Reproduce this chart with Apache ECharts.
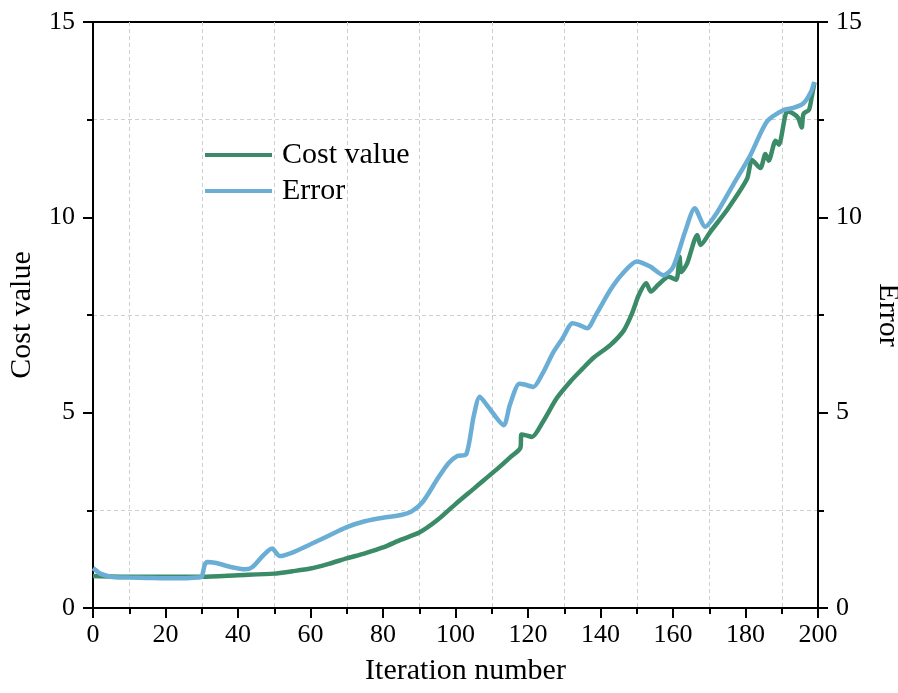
<!DOCTYPE html>
<html>
<head>
<meta charset="utf-8">
<script src="https://cdn.jsdelivr.net/npm/echarts@6/dist/echarts.min.js"></script>
<style>
html,body{margin:0;padding:0;background:#fff;}
#chart{width:898px;height:693px;}
</style>
</head>
<body>
<div id="chart"></div>
<script>
// ---- data ----
const costIter = [0, 10, 20, 30, 40, 50, 55, 60, 65, 70, 75, 80, 85, 90, 95, 100, 105, 107.8, 112, 115, 117.9, 118.2, 119.5, 121.1, 124, 128, 131.7, 135, 138, 142.7, 146.4, 148.7, 150.5, 152.6, 153.9, 156, 158.8, 160.9, 161.8, 162.3, 163.9, 166.7, 167.6, 170.3, 175, 180.4, 181.8, 184.1, 185.5, 186.4, 188.3, 189.2, 191.5, 192.9, 194.5, 195.5, 196, 197.5, 198.3, 199];
const costValue = [0.82, 0.80, 0.80, 0.80, 0.84, 0.88, 0.94, 1.01, 1.13, 1.27, 1.40, 1.55, 1.75, 1.93, 2.25, 2.66, 3.05, 3.27, 3.60, 3.85, 4.10, 4.44, 4.42, 4.38, 4.75, 5.38, 5.80, 6.12, 6.40, 6.73, 7.10, 7.54, 8.00, 8.31, 8.10, 8.28, 8.48, 8.40, 8.99, 8.60, 8.82, 9.55, 9.29, 9.63, 10.20, 10.98, 11.47, 11.26, 11.62, 11.45, 11.96, 11.86, 12.71, 12.67, 12.55, 12.30, 12.65, 12.75, 13.10, 13.45];

const errorIter = [0, 1, 2, 4, 6, 10, 15, 20, 25, 29, 30, 30.8, 31.5, 34, 38, 42, 44, 47, 49.4, 51.5, 55, 60, 65, 70, 75, 80, 85, 88, 91, 95, 98, 100.5, 103, 105, 106.7, 109, 113.3, 115, 117.6, 119, 121.5, 124, 127, 129.5, 132.3, 134, 136.3, 139, 142.7, 146, 150, 153.7, 157.4, 160, 163.4, 166, 168.9, 172, 176.7, 181.3, 185.9, 190.5, 193.2, 196, 198, 199];
const errorValue = [1.02, 0.95, 0.88, 0.82, 0.79, 0.78, 0.77, 0.76, 0.76, 0.78, 0.80, 1.10, 1.18, 1.15, 1.05, 0.99, 1.05, 1.35, 1.52, 1.33, 1.42, 1.63, 1.85, 2.07, 2.22, 2.31, 2.38, 2.48, 2.72, 3.30, 3.70, 3.89, 3.94, 4.90, 5.41, 5.15, 4.68, 5.20, 5.74, 5.72, 5.66, 6.00, 6.55, 6.90, 7.29, 7.25, 7.16, 7.55, 8.14, 8.55, 8.87, 8.74, 8.52, 8.72, 9.65, 10.23, 9.76, 10.10, 10.85, 11.58, 12.45, 12.75, 12.80, 12.92, 13.20, 13.47];

const xTicks = [0, 20, 40, 60, 80, 100, 120, 140, 160, 180, 200];
const yTicks = [0, 5, 10, 15];

const seriesNames = ['Cost value', 'Error'];

// ---- chart ----
const FONT = 'Liberation Serif';
const costData = costIter.map((x, i) => [x, costValue[i]]);
const errorData = errorIter.map((x, i) => [x, errorValue[i]]);

const chart = echarts.init(document.getElementById('chart'), null, {renderer: 'canvas'});

const gridLine = {show: true, lineStyle: {color: '#cfcfcf', type: [4, 3], width: 1}};

function yAxis(pos, name, rot, gap) {
  return {
    type: 'value', position: pos, min: yTicks[0], max: yTicks[yTicks.length - 1], interval: 5,
    name: name, nameLocation: 'middle', nameGap: gap, nameRotate: rot,
    nameTextStyle: {fontFamily: FONT, fontSize: 30, color: '#000'},
    axisLine: {show: true, onZero: false, lineStyle: {color: '#000', width: 2}},
    axisTick: {show: true, inside: false, length: 10, lineStyle: {color: '#000', width: 2}},
    minorTick: {show: true, splitNumber: 2, length: 6, lineStyle: {color: '#000', width: 2}},
    splitLine: {show: false},
    minorSplitLine: pos === 'left' ? gridLine : {show: false},
    axisLabel: {fontFamily: FONT, fontSize: 26, color: '#000', margin: 18}
  };
}

chart.setOption({
  animation: false,
  backgroundColor: '#fff',
  grid: {left: 93, right: 80, top: 22, bottom: 85, show: true, borderColor: '#000', borderWidth: 2,
         containLabel: false, outerBoundsMode: 'none'},
  legend: {
    data: seriesNames, orient: 'vertical', left: 205, top: 140,
    icon: 'rect', itemWidth: 67, itemHeight: 4, itemGap: 6,
    textStyle: {fontFamily: FONT, fontSize: 30, color: '#000', lineHeight: 30, padding: [0, 0, 0, 5]},
    padding: 0
  },
  xAxis: {
    type: 'value', min: xTicks[0], max: xTicks[xTicks.length - 1], interval: 20,
    name: 'Iteration number', nameLocation: 'middle', nameGap: 48,
    nameTextStyle: {fontFamily: FONT, fontSize: 30, color: '#000', padding: [0, 0, 0, 20]},
    axisLine: {show: true, onZero: false, lineStyle: {color: '#000', width: 2}},
    axisTick: {show: true, inside: false, length: 10, lineStyle: {color: '#000', width: 2}},
    minorTick: {show: true, splitNumber: 2, length: 6, lineStyle: {color: '#000', width: 2}},
    splitLine: {show: false},
    minorSplitLine: gridLine,
    axisLabel: {fontFamily: FONT, fontSize: 26, color: '#000', margin: 14}
  },
  yAxis: [
    yAxis('left', 'Cost value', 90, 56),
    yAxis('right', 'Error', -90, 36)
  ],
  series: [
    {
      name: seriesNames[0], type: 'line', yAxisIndex: 0, data: costData,
      showSymbol: false, symbol: 'none', smooth: 0.25,
      lineStyle: {color: '#3b8b69', width: 4.5}, itemStyle: {color: '#3b8b69'}, z: 2
    },
    {
      name: seriesNames[1], type: 'line', yAxisIndex: 1, data: errorData,
      showSymbol: false, symbol: 'none', smooth: 0.25,
      lineStyle: {color: '#6aaed6', width: 4.5}, itemStyle: {color: '#6aaed6'}, z: 3
    }
  ]
});
</script>
</body>
</html>
